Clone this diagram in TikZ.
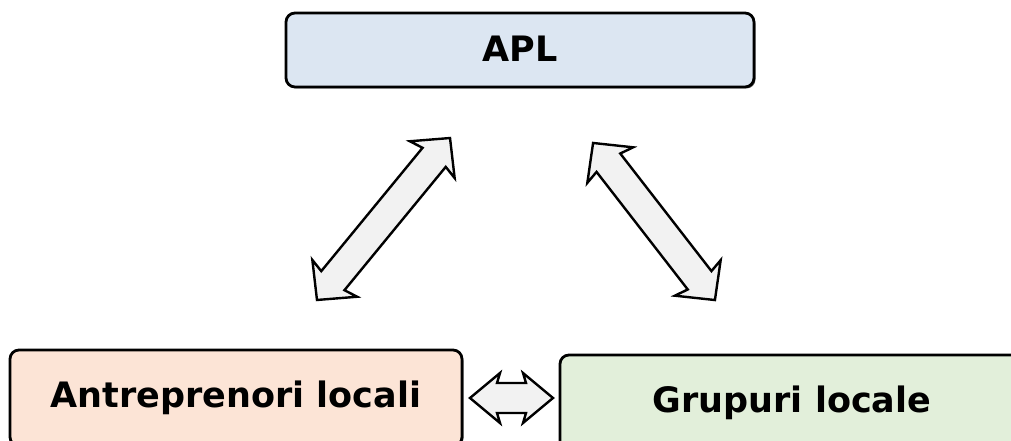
\documentclass[tikz,border=0pt]{standalone}
\usepackage{fontspec}
\setmainfont{DejaVu Sans}
\usetikzlibrary{shadows}
\definecolor{aplblue}{HTML}{DCE6F2}
\definecolor{antpeach}{HTML}{FCE4D6}
\definecolor{grpgreen}{HTML}{E2EFDA}
\definecolor{arrgray}{HTML}{F2F2F2}
\tikzset{
  box/.style={draw=black, line width=2.8pt, rounded corners=9pt, inner sep=0pt,
    drop shadow={shadow xshift=1.5pt, shadow yshift=-1.5pt, fill=black, opacity=0.6}},
  lbl/.style={font=\fontsize{35}{42}\selectfont\bfseries, inner sep=0pt, anchor=base},
  blockarrow/.style={draw=black, fill=arrgray, line width=2.4pt, line join=miter}
}
% double block arrow: center x, center y, angle, length, head length, head half-width, shaft half-width
\newcommand\dblblockarrow[7]{%
  \begin{scope}[shift={(#1,#2)}, rotate=#3]
    \pgfmathsetmacro\hl{#4/2}
    \draw[blockarrow] (-\hl,0) -- (-\hl+#5,#6) -- (-\hl+#5-3,#7) -- (\hl-#5+3,#7) -- (\hl-#5,#6)
      -- (\hl,0) -- (\hl-#5,-#6) -- (\hl-#5+3,-#7) -- (-\hl+#5-3,-#7) -- (-\hl+#5,-#6) -- cycle;
  \end{scope}}
\begin{document}
\begin{tikzpicture}[x=1pt, y=-1pt]
  \useasboundingbox (0,0) rectangle (1011,441);
  \clip (0,0) rectangle (1011,441);
  % boxes
  \node[box, fill=aplblue, minimum width=468pt, minimum height=74pt] (apl) at (520,50) {};
  \node[box, fill=antpeach, minimum width=452pt, minimum height=96pt] (ant) at (236,398) {};
  \node[box, fill=grpgreen, minimum width=464pt, minimum height=96pt] (grp) at (792,403) {};
  % texts
  \node[lbl] (tapl) at (520,62) {APL};
  \node[lbl] (tant) at (236,407) {Antreprenori locali};
  \node[lbl] (tgrp) at (792,412) {Grupuri locale};
  % block arrows
  \dblblockarrow{383.5}{219}{50.6}{209.6}{28}{29}{15}
  \dblblockarrow{654}{221.5}{-52.2}{198.8}{28}{29}{15}
  \dblblockarrow{511.5}{398}{0}{83}{30}{25}{15}
\end{tikzpicture}
\end{document}
